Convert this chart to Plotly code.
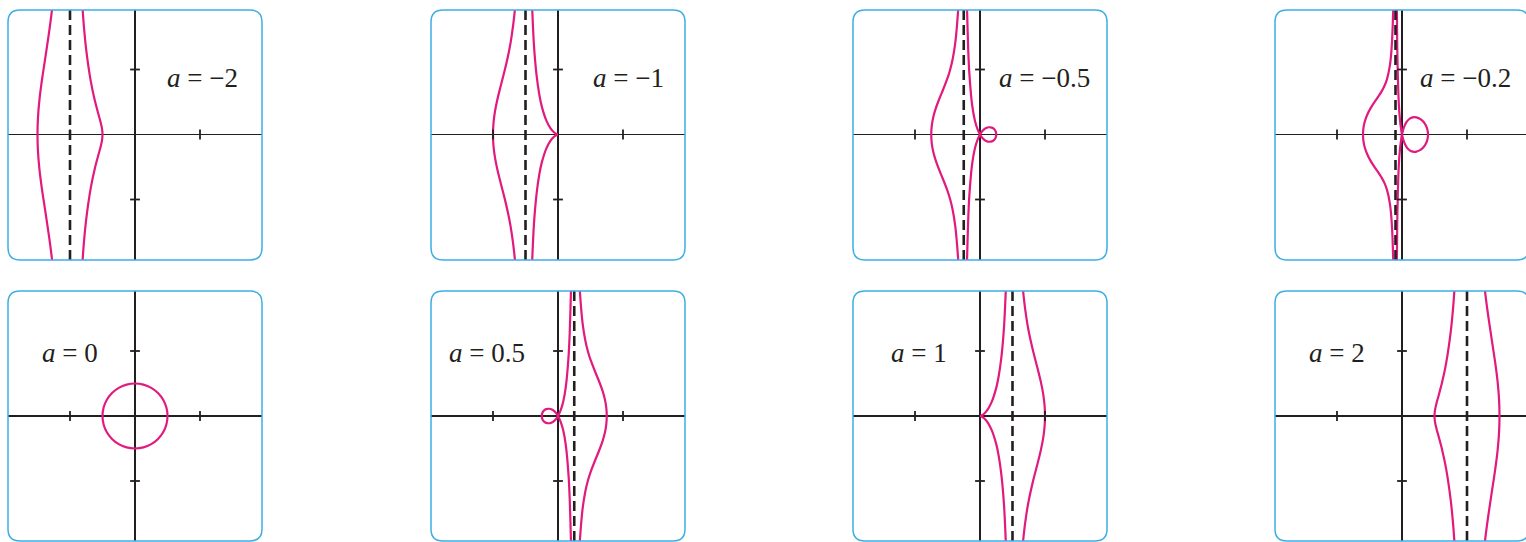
"""Conchoid family x = a + cos t, y = a tan t + sin t, one panel per value of a."""

import plotly.graph_objects as go

CURVE_COLOR = "#E2197E"
BORDER_COLOR = "#3DAEE3"
AXIS_COLOR = "#231F20"

FIG_W, FIG_H = 1526, 542
PX_PER_UNIT = 32.5

A_VALUES = [-2, -1, -0.5, -0.2, 0, 0.5, 1, 2]
LABELS = ["−2", "−1", "−0.5", "−0.2", "0", "0.5", "1", "2"]
TICK_VALUES = [-2, 2]

# a = -2
M2_LEFT_X = [-2.423, -2.5, -2.574, -2.643, -2.766, -2.866, -2.94, -2.985, -3.0,
             -2.985, -2.94, -2.866, -2.766, -2.643, -2.574, -2.5, -2.423]
M2_LEFT_Y = [-5.195, -4.33, -3.675, -3.15, -2.321, -1.655, -1.07, -0.526, 0.0,
             0.526, 1.07, 1.655, 2.321, 3.15, 3.675, 4.33, 5.195]
M2_RIGHT_X = [-1.658, -1.577, -1.5, -1.357, -1.234, -1.134, -1.06, -1.015, -1.0,
              -1.015, -1.06, -1.134, -1.234, -1.357, -1.5, -1.577, -1.658]
M2_RIGHT_Y = [-4.555, -3.383, -2.598, -1.618, -1.035, -0.655, -0.386, -0.179, 0.0,
              0.179, 0.386, 0.655, 1.035, 1.618, 2.598, 3.383, 4.555]

# a = -1
M1_LEFT_X = [-1.259, -1.342, -1.423, -1.5, -1.643, -1.766, -1.866, -1.94, -1.985, -2.0,
             -1.985, -1.94, -1.866, -1.766, -1.643, -1.5, -1.423, -1.342, -1.259]
M1_LEFT_Y = [-4.698, -3.687, -3.051, -2.598, -1.958, -1.482, -1.077, -0.706, -0.35, 0.0,
             0.35, 0.706, 1.077, 1.482, 1.958, 2.598, 3.051, 3.687, 4.698]
M1_UPPER_X = [0.0, -0.015, -0.06, -0.134, -0.234, -0.357, -0.5, -0.577, -0.658, -0.741, -0.826]
M1_UPPER_Y = [0.0, 0.003, 0.022, 0.077, 0.196, 0.426, 0.866, 1.238, 1.808, 2.766, 4.687]
M1_LOWER_X = [0.0, -0.015, -0.06, -0.134, -0.234, -0.357, -0.5, -0.577, -0.658, -0.741, -0.826]
M1_LOWER_Y = [0.0, -0.003, -0.022, -0.077, -0.196, -0.426, -0.866, -1.238, -1.808, -2.766, -4.687]

# a = -0.5
M05_LEFT_X = [-0.639, -0.674, -0.759, -0.842, -0.923, -1.0, -1.143, -1.266, -1.366, -1.44, -1.485,
              -1.5, -1.485, -1.44, -1.366, -1.266, -1.143, -1.0, -0.923, -0.842, -0.759, -0.674, -0.639]
M05_LEFT_Y = [-4.548, -3.82, -2.832, -2.314, -1.978, -1.732, -1.362, -1.062, -0.789, -0.524, -0.262,
              0.0, 0.262, 0.524, 0.789, 1.062, 1.362, 1.732, 1.978, 2.314, 2.832, 3.82, 4.548]
M05_RIGHT_X = [-0.413, -0.396, -0.361, -0.326, -0.241, -0.158, -0.077, 0.0, 0.074, 0.143, 0.207,
               0.266, 0.366, 0.44, 0.485, 0.5, 0.485, 0.44, 0.366, 0.266, 0.207, 0.143, 0.074,
               0.0, -0.077, -0.158, -0.241, -0.326, -0.361, -0.396, -0.413]
M05_RIGHT_Y = [4.719, 3.763, 2.568, 1.851, 0.9, 0.434, 0.166, 0.0, -0.105, -0.17, -0.207,
               -0.223, -0.211, -0.16, -0.086, 0.0, 0.086, 0.16, 0.211, 0.223, 0.207, 0.17, 0.105,
               0.0, -0.166, -0.434, -0.9, -1.851, -2.568, -3.763, -4.719]

# a = -0.2
M02_LEFT_X = [-0.252, -0.27, -0.305, -0.339, -0.374, -0.459, -0.542, -0.623, -0.7, -0.843, -0.966,
              -1.066, -1.14, -1.185, -1.2, -1.185, -1.14, -1.066, -0.966, -0.843, -0.7, -0.623,
              -0.542, -0.459, -0.374, -0.339, -0.305, -0.27, -0.252]
M02_LEFT_Y = [-4.815, -3.858, -2.898, -2.413, -2.119, -1.712, -1.49, -1.335, -1.212, -1.004, -0.811,
              -0.615, -0.415, -0.209, 0.0, 0.209, 0.415, 0.615, 0.811, 1.004, 1.212, 1.335,
              1.49, 1.712, 2.119, 2.413, 2.898, 3.858, 4.815]
M02_RIGHT_X = [-0.165, -0.148, -0.13, -0.096, -0.061, -0.026, 0.008, 0.059, 0.142, 0.223, 0.3,
               0.374, 0.443, 0.566, 0.666, 0.74, 0.785, 0.8, 0.785, 0.74, 0.666, 0.566, 0.443,
               0.374, 0.3, 0.223, 0.142, 0.059, 0.008, -0.026, -0.061, -0.096, -0.13, -0.148, -0.165]
M02_RIGHT_Y = [4.728, 2.817, 1.863, 0.908, 0.433, 0.15, -0.037, -0.22, -0.39, -0.477, -0.52,
               -0.534, -0.528, -0.475, -0.385, -0.269, -0.138, 0.0, 0.138, 0.269, 0.385, 0.475, 0.528,
               0.534, 0.52, 0.477, 0.39, 0.22, 0.037, -0.15, -0.433, -0.908, -1.863, -2.817, -4.728]

# a = 0
CIRCLE_X = [1.0, 0.966, 0.866, 0.707, 0.5, 0.259, 0.0, -0.259, -0.5, -0.707, -0.866, -0.966, -1.0,
            -0.966, -0.866, -0.707, -0.5, -0.259, 0.0, 0.259, 0.5, 0.707, 0.866, 0.966, 1.0]
CIRCLE_Y = [0.0, 0.259, 0.5, 0.707, 0.866, 0.966, 1.0, 0.966, 0.866, 0.707, 0.5, 0.259, 0.0,
            -0.259, -0.5, -0.707, -0.866, -0.966, -1.0, -0.966, -0.866, -0.707, -0.5, -0.259, 0.0]

# a = 0.5
P05_LEFT_X = [0.413, 0.396, 0.361, 0.326, 0.241, 0.158, 0.077, 0.0, -0.074, -0.143, -0.207,
              -0.266, -0.366, -0.44, -0.485, -0.5, -0.485, -0.44, -0.366, -0.266, -0.207, -0.143, -0.074,
              0.0, 0.077, 0.158, 0.241, 0.326, 0.361, 0.396, 0.413]
P05_LEFT_Y = [4.719, 3.763, 2.568, 1.851, 0.9, 0.434, 0.166, 0.0, -0.105, -0.17, -0.207,
              -0.223, -0.211, -0.16, -0.086, 0.0, 0.086, 0.16, 0.211, 0.223, 0.207, 0.17, 0.105,
              0.0, -0.166, -0.434, -0.9, -1.851, -2.568, -3.763, -4.719]
P05_RIGHT_X = [0.639, 0.674, 0.759, 0.842, 0.923, 1.0, 1.143, 1.266, 1.366, 1.44, 1.485,
               1.5, 1.485, 1.44, 1.366, 1.266, 1.143, 1.0, 0.923, 0.842, 0.759, 0.674, 0.639]
P05_RIGHT_Y = [-4.548, -3.82, -2.832, -2.314, -1.978, -1.732, -1.362, -1.062, -0.789, -0.524, -0.262,
               0.0, 0.262, 0.524, 0.789, 1.062, 1.362, 1.732, 1.978, 2.314, 2.832, 3.82, 4.548]

# a = 1
P1_UPPER_X = [0.0, 0.015, 0.06, 0.134, 0.234, 0.357, 0.5, 0.577, 0.658, 0.741, 0.826]
P1_UPPER_Y = [0.0, 0.003, 0.022, 0.077, 0.196, 0.426, 0.866, 1.238, 1.808, 2.766, 4.687]
P1_LOWER_X = [0.0, 0.015, 0.06, 0.134, 0.234, 0.357, 0.5, 0.577, 0.658, 0.741, 0.826]
P1_LOWER_Y = [0.0, -0.003, -0.022, -0.077, -0.196, -0.426, -0.866, -1.238, -1.808, -2.766, -4.687]
P1_RIGHT_X = [1.259, 1.342, 1.423, 1.5, 1.643, 1.766, 1.866, 1.94, 1.985, 2.0,
              1.985, 1.94, 1.866, 1.766, 1.643, 1.5, 1.423, 1.342, 1.259]
P1_RIGHT_Y = [-4.698, -3.687, -3.051, -2.598, -1.958, -1.482, -1.077, -0.706, -0.35, 0.0,
              0.35, 0.706, 1.077, 1.482, 1.958, 2.598, 3.051, 3.687, 4.698]

# a = 2
P2_LEFT_X = [1.658, 1.577, 1.5, 1.357, 1.234, 1.134, 1.06, 1.015, 1.0,
             1.015, 1.06, 1.134, 1.234, 1.357, 1.5, 1.577, 1.658]
P2_LEFT_Y = [-4.555, -3.383, -2.598, -1.618, -1.035, -0.655, -0.386, -0.179, 0.0,
             0.179, 0.386, 0.655, 1.035, 1.618, 2.598, 3.383, 4.555]
P2_RIGHT_X = [2.423, 2.5, 2.574, 2.643, 2.766, 2.866, 2.94, 2.985, 3.0,
              2.985, 2.94, 2.866, 2.766, 2.643, 2.574, 2.5, 2.423]
P2_RIGHT_Y = [-5.195, -4.33, -3.675, -3.15, -2.321, -1.655, -1.07, -0.526, 0.0,
              0.526, 1.07, 1.655, 2.321, 3.15, 3.675, 4.33, 5.195]

BRANCHES = [
    [(M2_LEFT_X, M2_LEFT_Y), (M2_RIGHT_X, M2_RIGHT_Y)],
    [(M1_LEFT_X, M1_LEFT_Y), (M1_UPPER_X, M1_UPPER_Y), (M1_LOWER_X, M1_LOWER_Y)],
    [(M05_LEFT_X, M05_LEFT_Y), (M05_RIGHT_X, M05_RIGHT_Y)],
    [(M02_LEFT_X, M02_LEFT_Y), (M02_RIGHT_X, M02_RIGHT_Y)],
    [(CIRCLE_X, CIRCLE_Y)],
    [(P05_LEFT_X, P05_LEFT_Y), (P05_RIGHT_X, P05_RIGHT_Y)],
    [(P1_UPPER_X, P1_UPPER_Y), (P1_LOWER_X, P1_LOWER_Y), (P1_RIGHT_X, P1_RIGHT_Y)],
    [(P2_LEFT_X, P2_LEFT_Y), (P2_RIGHT_X, P2_RIGHT_Y)],
]

# panel geometry in page pixels
COL_LEFT = [8, 431, 853, 1275]
COL_ORIGIN = [135, 558, 980, 1402]
ROW_TOP = [10, 291]
ROW_ORIGIN = [134.5, 416]
BOX_W, BOX_H = 254, 250
CORNER = 12
LABEL_POS = [(0.92, 1.74), (1.02, 1.74), (0.52, 1.74), (0.49, 1.74),
             (-2.92, 1.94), (-3.42, 1.94), (-2.8, 1.94), (-2.92, 1.94)]
SP = "\u00a0"


def _rounded_box(x0, y0, x1, y1):
    rx, ry = CORNER / FIG_W, CORNER / FIG_H
    return (
        f"M {x0 + rx},{y1} L {x1 - rx},{y1} Q {x1},{y1} {x1},{y1 - ry} "
        f"L {x1},{y0 + ry} Q {x1},{y0} {x1 - rx},{y0} "
        f"L {x0 + rx},{y0} Q {x0},{y0} {x0},{y0 + ry} "
        f"L {x0},{y1 - ry} Q {x0},{y1} {x0 + rx},{y1} Z"
    )


fig = go.Figure()
layout = {}
shapes = []
annotations = []

for i, a in enumerate(A_VALUES):
    r, c = divmod(i, 4)
    n = "" if i == 0 else str(i + 1)
    xref, yref = f"x{n}", f"y{n}"

    left, top = COL_LEFT[c], ROW_TOP[r]
    right = min(left + BOX_W, FIG_W)
    ox, oy = COL_ORIGIN[c], ROW_ORIGIN[r]

    axis_common = dict(
        showgrid=False, showticklabels=False, ticks="", showline=False,
        zeroline=True, zerolinecolor=AXIS_COLOR, zerolinewidth=1.8, fixedrange=True,
    )
    layout[f"xaxis{n}"] = dict(
        domain=[left / FIG_W, right / FIG_W],
        range=[(left - ox) / PX_PER_UNIT, (right - ox) / PX_PER_UNIT],
        anchor=yref, **axis_common,
    )
    layout[f"yaxis{n}"] = dict(
        domain=[1 - (top + BOX_H) / FIG_H, 1 - top / FIG_H],
        range=[(oy - top - BOX_H) / PX_PER_UNIT, (oy - top) / PX_PER_UNIT],
        anchor=xref, **axis_common,
    )

    xs, ys = [], []
    for bx, by in BRANCHES[i]:
        xs += list(bx) + [None]
        ys += list(by) + [None]
    fig.add_trace(go.Scatter(
        x=xs, y=ys, mode="lines", xaxis=xref, yaxis=yref,
        line=dict(color=CURVE_COLOR, width=2.2, shape="spline", smoothing=0.8),
        hoverinfo="skip", showlegend=False,
    ))

    fig.add_trace(go.Scatter(
        x=TICK_VALUES, y=[0] * len(TICK_VALUES), mode="markers", xaxis=xref, yaxis=yref,
        marker=dict(symbol="line-ns", size=7, line=dict(color=AXIS_COLOR, width=1.8)),
        hoverinfo="skip", showlegend=False,
    ))
    fig.add_trace(go.Scatter(
        x=[0] * len(TICK_VALUES), y=TICK_VALUES, mode="markers", xaxis=xref, yaxis=yref,
        marker=dict(symbol="line-ew", size=7, line=dict(color=AXIS_COLOR, width=1.8)),
        hoverinfo="skip", showlegend=False,
    ))

    if a != 0:
        shapes.append(dict(
            type="line", xref=xref, yref=f"{yref} domain", x0=a, x1=a, y0=0, y1=1,
            line=dict(color=AXIS_COLOR, width=2.6, dash="10px,5px"),
        ))

    shapes.append(dict(
        type="path", xref="paper", yref="paper",
        path=_rounded_box(left / FIG_W, 1 - (top + BOX_H) / FIG_H,
                          (left + BOX_W) / FIG_W, 1 - top / FIG_H),
        line=dict(color=BORDER_COLOR, width=1.5),
    ))

    lx, ly = LABEL_POS[i]
    annotations.append(dict(
        x=lx, y=ly, xref=xref, yref=yref, xanchor="left", yanchor="middle",
        text=f"<i>a</i>{SP}={SP}{LABELS[i]}", showarrow=False,
        font=dict(family="Liberation Serif", size=27, color=AXIS_COLOR),
    ))

fig.update_layout(
    width=FIG_W, height=FIG_H,
    margin=dict(l=0, r=0, t=0, b=0),
    paper_bgcolor="white", plot_bgcolor="white",
    shapes=shapes, annotations=annotations,
    **layout,
)

fig.write_html(
    "out.html",
    config={"displayModeBar": False, "staticPlot": True},
    post_script="document.body.style.margin='0';document.body.style.overflow='hidden';",
)
